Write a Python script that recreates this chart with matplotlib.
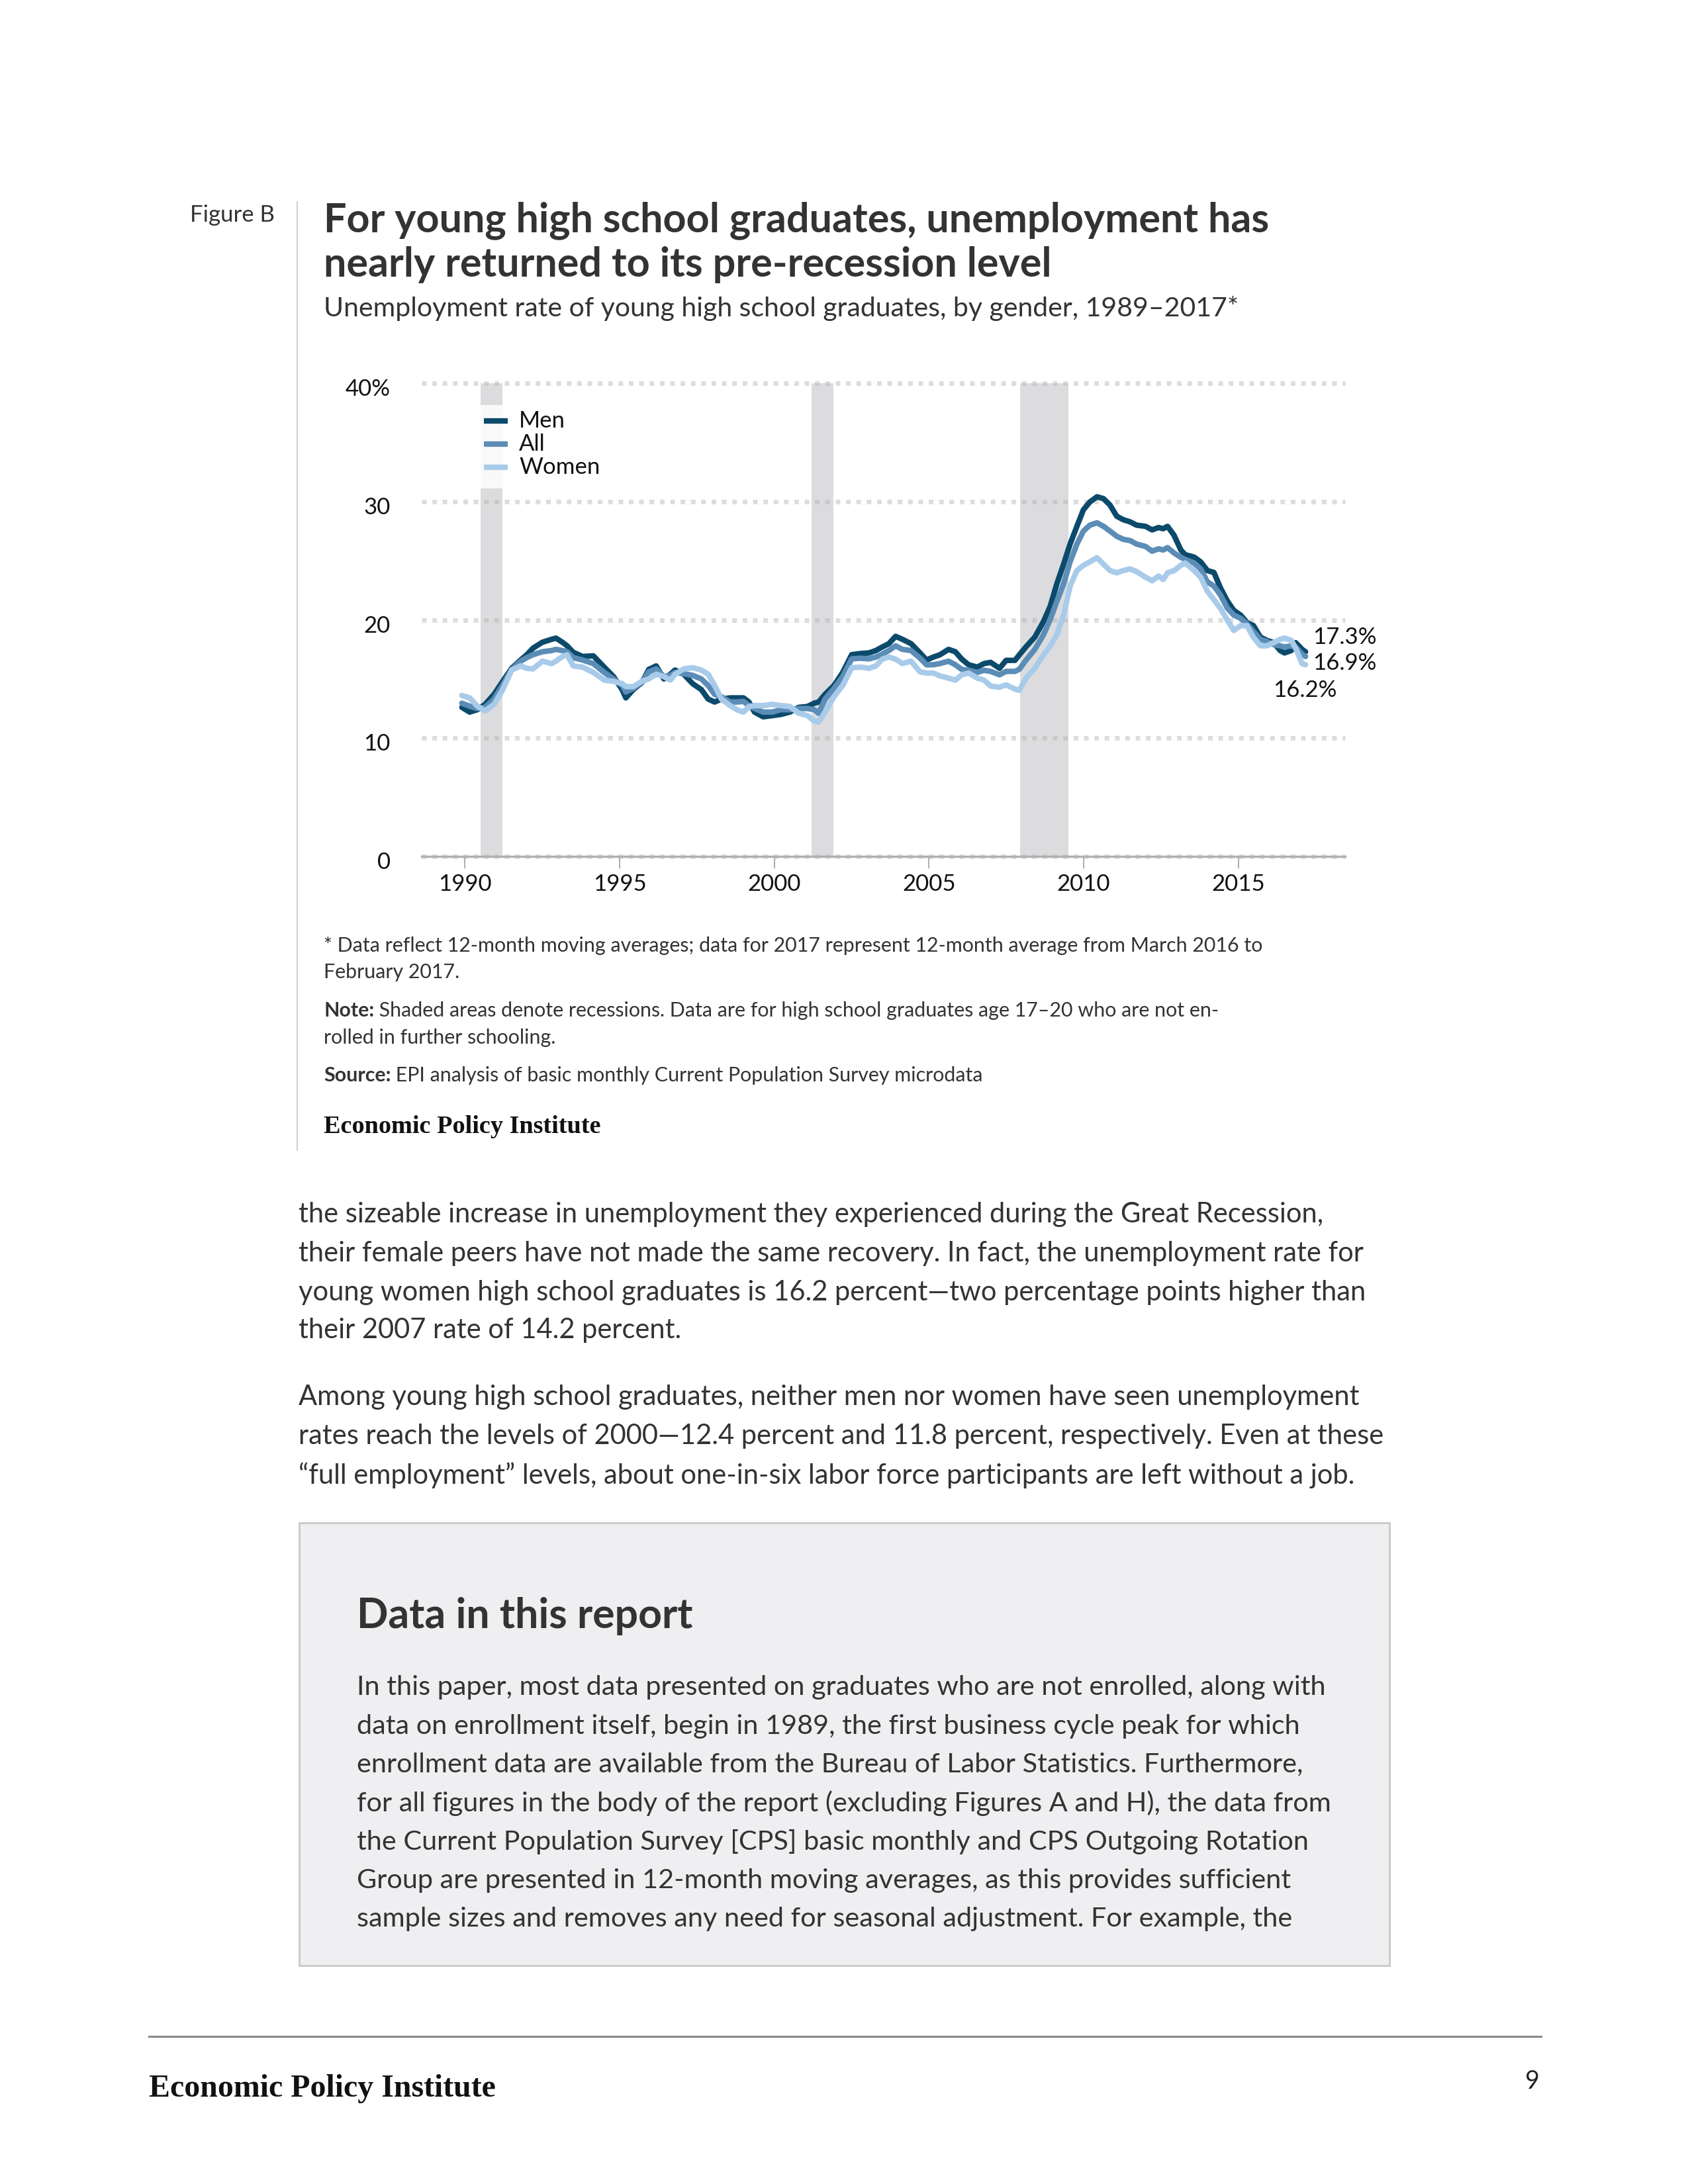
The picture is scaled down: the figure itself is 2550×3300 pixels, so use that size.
import matplotlib
matplotlib.use("Agg")
import matplotlib.pyplot as plt
import matplotlib.transforms as mtransforms
from matplotlib.lines import Line2D
from matplotlib.patches import Rectangle

plt.rcParams["font.family"] = ["Lato", "DejaVu Sans"]

# ---- data (12-month moving averages) ----
years = [1989.90, 1990.15, 1990.40, 1990.65, 1990.94, 1991.22, 1991.51, 1991.80, 1992.00, 1992.20,
         1992.50, 1992.80, 1992.94, 1993.15, 1993.30, 1993.50, 1993.80, 1994.15, 1994.50, 1994.80,
         1995.08, 1995.20, 1995.44, 1995.72, 1995.94, 1996.18, 1996.43, 1996.64, 1996.79, 1997.07,
         1997.36, 1997.64, 1997.86, 1998.07, 1998.29, 1998.57, 1998.79, 1999.00, 1999.18, 1999.36,
         1999.64, 1999.93, 2000.21, 2000.50, 2000.79, 2001.07, 2001.29, 2001.43, 2001.64, 2001.93,
         2002.21, 2002.50, 2002.79, 2003.06, 2003.28, 2003.49, 2003.70, 2003.92, 2004.14, 2004.42,
         2004.71, 2004.92, 2005.14, 2005.35, 2005.63, 2005.85, 2006.06, 2006.28, 2006.56, 2006.78,
         2006.99, 2007.28, 2007.49, 2007.78, 2007.92, 2008.13, 2008.42, 2008.70, 2008.92, 2009.13,
         2009.35, 2009.56, 2009.78, 2009.99, 2010.20, 2010.43, 2010.64, 2010.85, 2011.07, 2011.28,
         2011.50, 2011.71, 2012.00, 2012.21, 2012.42, 2012.57, 2012.71, 2012.92, 2013.14, 2013.28,
         2013.57, 2013.78, 2014.00, 2014.21, 2014.42, 2014.64, 2014.85, 2015.07, 2015.28, 2015.49,
         2015.71, 2015.92, 2016.14, 2016.35, 2016.49, 2016.71, 2016.85, 2017.06, 2017.17]

men = [12.6, 12.2, 12.4, 12.85, 13.7, 14.8, 15.9, 16.6, 17.05, 17.6,
       18.1, 18.35, 18.45, 18.1, 17.8, 17.25, 16.9, 16.95, 16.0, 15.2,
       14.1, 13.4, 14.1, 14.7, 15.8, 16.1, 15.0, 15.4, 15.75, 15.4,
       14.6, 14.1, 13.3, 13.05, 13.3, 13.4, 13.4, 13.4, 13.05, 12.2,
       11.8, 11.9, 12.0, 12.2, 12.6, 12.67, 12.95, 13.05, 13.7, 14.45,
       15.55, 17.05, 17.15, 17.2, 17.4, 17.7, 17.98, 18.6, 18.35, 17.98,
       17.2, 16.6, 16.85, 17.04, 17.5, 17.3, 16.67, 16.2, 16.0, 16.3,
       16.4, 15.9, 16.57, 16.57, 17.04, 17.7, 18.54, 19.85, 21.16, 23.03,
       24.7, 26.4, 27.9, 29.3, 29.96, 30.4, 30.24, 29.7, 28.75, 28.46,
       28.28, 28.0, 27.9, 27.6, 27.8, 27.7, 27.9, 27.15, 25.9, 25.5,
       25.3, 24.9, 24.16, 24.0, 22.7, 21.6, 20.8, 20.4, 19.76, 19.5,
       18.54, 18.26, 18.07, 17.4, 17.2, 17.4, 18.07, 17.5, 17.3]

all_grads = [12.95, 12.7, 12.5, 12.6, 13.3, 14.5, 15.8, 16.5, 16.8, 17.05,
             17.3, 17.4, 17.5, 17.4, 17.3, 16.8, 16.6, 16.3, 15.55, 15.0,
             14.45, 13.9, 14.2, 14.75, 15.6, 15.85, 15.2, 15.3, 15.55, 15.45,
             15.3, 15.0, 14.45, 13.7, 13.5, 13.05, 13.05, 13.1, 12.75, 12.5,
             12.2, 12.2, 12.4, 12.4, 12.5, 12.5, 12.4, 12.1, 13.3, 14.2,
             15.2, 16.7, 16.75, 16.7, 16.85, 17.1, 17.4, 17.8, 17.5, 17.4,
             16.76, 16.2, 16.2, 16.3, 16.5, 16.2, 15.8, 15.73, 15.55, 15.73,
             15.64, 15.35, 15.64, 15.64, 15.82, 16.57, 17.5, 18.73, 20.04, 21.54,
             23.03, 24.9, 26.4, 27.5, 28.0, 28.2, 27.9, 27.5, 27.06, 26.8,
             26.7, 26.4, 26.2, 25.8, 26.0, 25.9, 26.1, 25.65, 25.28, 25.1,
             24.8, 24.3, 23.2, 22.85, 22.1, 21.0, 20.4, 20.13, 19.66, 19.0,
             18.35, 18.17, 17.9, 17.8, 17.7, 17.8, 17.7, 17.1, 16.9]

women = [13.6, 13.4, 12.7, 12.3, 12.85, 14.1, 15.75, 16.1, 15.9, 15.85,
         16.5, 16.3, 16.5, 16.9, 17.05, 16.1, 16.0, 15.55, 14.9, 14.8,
         14.6, 14.35, 14.35, 14.8, 15.0, 15.4, 15.2, 14.9, 15.4, 15.85,
         15.95, 15.75, 15.4, 14.45, 13.3, 12.75, 12.4, 12.2, 12.67, 12.75,
         12.75, 12.85, 12.75, 12.67, 12.1, 11.9, 11.45, 11.35, 12.2, 13.5,
         14.45, 15.95, 16.0, 15.9, 16.1, 16.67, 16.85, 16.67, 16.3, 16.5,
         15.6, 15.5, 15.5, 15.26, 15.07, 14.9, 15.35, 15.5, 15.07, 14.9,
         14.4, 14.3, 14.5, 14.14, 14.04, 15.07, 15.9, 17.04, 17.79, 18.73,
         20.4, 22.85, 24.16, 24.6, 24.9, 25.25, 24.7, 24.16, 23.97, 24.16,
         24.3, 24.07, 23.6, 23.3, 23.7, 23.4, 23.97, 24.16, 24.6, 24.8,
         24.16, 23.6, 22.4, 21.7, 20.97, 20.0, 19.1, 19.5, 19.5, 18.5,
         17.8, 17.8, 18.07, 18.35, 18.45, 18.26, 17.6, 16.3, 16.2]

series_names = ["Men", "All", "Women"]
series_colors = ["#0b4a6b", "#5b8db7", "#a9cbea"]
end_labels = ["17.3%", "16.9%", "16.2%"]

recessions = [(1990.5, 1991.22), (2001.2, 2001.9), (2007.95, 2009.5)]
x_ticks = [1990, 1995, 2000, 2005, 2010, 2015]
y_ticks = [0, 10, 20, 30, 40]
y_tick_labels = ["0", "10", "20", "30", "40%"]

W, H = 2550, 3300
PT = 100 / 72.0


def fx(x):
    return x / W


def fy(y):
    return 1 - y / H


fig = plt.figure(figsize=(25.5, 33), dpi=100)
fig.patch.set_facecolor("white")

# ---- chart ----
ax = fig.add_axes([fx(637), fy(1294), fx(2032) - fx(637), fy(579) - fy(1294)])
ax.set_xlim(1988.6, 2018.45)
ax.set_ylim(0, 40)
for s in ax.spines.values():
    s.set_visible(False)

for start, end in recessions:
    ax.axvspan(start, end, color="#dcdcde", zorder=0, lw=0)

for v in y_ticks:
    ax.axhline(v, color="#b4b4b4", alpha=0.45, lw=5, dashes=(1.0, 1.25),
               dash_capstyle="butt", clip_on=False, zorder=1)
ax.axhline(0, color="#b0b0b0", lw=2.5, clip_on=False, zorder=1.5)

for vals, name, col in zip([men, all_grads, women], series_names, series_colors):
    ax.plot(years, vals, color=col, lw=6, solid_capstyle="round",
            solid_joinstyle="round", zorder=3, clip_on=False)

ax.set_xticks(x_ticks)
ax.set_xticklabels([str(t) for t in x_ticks])
ax.tick_params(axis="x", length=13, width=1.5, color="#b0b0b0", pad=6,
               labelsize=25, labelcolor="#111111")
ax.set_yticks(y_ticks)
ax.set_yticklabels(y_tick_labels)
ax.tick_params(axis="y", length=0, pad=34, labelsize=25, labelcolor="#111111")
shift = mtransforms.ScaledTranslation(0, -6 / 100.0, fig.dpi_scale_trans)
for lab in ax.get_yticklabels():
    lab.set_transform(lab.get_transform() + shift)

# end-of-line value labels
offsets = [(11, 22, "left"), (11, -10, "left"), (47, -39, "right")]
for vals, lab, (dx, dy, ha) in zip([men, all_grads, women], end_labels, offsets):
    ax.annotate(lab, xy=(years[-1], vals[-1]), xytext=(dx / PT, dy / PT),
                textcoords="offset points", ha=ha, va="center", fontsize=25,
                color="#111111", annotation_clip=False)

# legend (drawn by hand to match the compact layout)
fig.add_artist(Rectangle((fx(712), fy(738)), fx(940) - fx(712), fy(612) - fy(738),
                         transform=fig.transFigure, facecolor="white", alpha=0.85,
                         edgecolor="none", zorder=2))
for i, (name, col) in enumerate(zip(series_names, series_colors)):
    yy = 636 + i * 35
    fig.add_artist(Line2D([fx(731), fx(767)], [fy(yy), fy(yy)], color=col, lw=6,
                          solid_capstyle="butt", zorder=3))
    fig.text(fx(784), fy(yy), name, fontsize=25, va="center", ha="left",
             color="#111111", zorder=3)

# ---- figure header ----
dark = "#333333"
fig.add_artist(Line2D([fx(449), fx(449)], [fy(305), fy(1738)], color="#d0d0d0", lw=1.5))
fig.text(fx(287), fy(325), "Figure B", fontsize=25, color=dark, va="center")
fig.text(fx(489), fy(333), "For young high school graduates, unemployment has",
         fontsize=44, fontweight="bold", color=dark, va="center")
fig.text(fx(489), fy(400), "nearly returned to its pre-recession level",
         fontsize=44, fontweight="bold", color=dark, va="center")
fig.text(fx(489), fy(466), "Unemployment rate of young high school graduates, by gender, 1989\u20132017*",
         fontsize=29.5, color=dark, va="center")

# ---- notes ----
note_size = 21.9
fig.text(fx(489), fy(1429), "* Data reflect 12-month moving averages; data for 2017 represent "
         "12-month average from March 2016 to", fontsize=note_size, color=dark, va="center")
fig.text(fx(489), fy(1469), "February 2017.", fontsize=note_size, color=dark, va="center")
t_note = fig.text(fx(489), fy(1527), "Note:", fontsize=note_size, fontweight="bold",
                  color=dark, va="center")
ax.annotate(" Shaded areas denote recessions. Data are for high school graduates age 17\u201320 "
            "who are not en-", xy=(1, 0), xycoords=t_note, va="bottom", ha="left",
            fontsize=note_size, color=dark, annotation_clip=False)
fig.text(fx(489), fy(1568), "rolled in further schooling.", fontsize=note_size, color=dark,
         va="center")
t_src = fig.text(fx(489), fy(1625), "Source:", fontsize=note_size, fontweight="bold",
                 color=dark, va="center")
ax.annotate(" EPI analysis of basic monthly Current Population Survey microdata", xy=(1, 0),
            xycoords=t_src, va="bottom", ha="left", fontsize=note_size, color=dark,
            annotation_clip=False)
fig.text(fx(489), fy(1702), "Economic Policy Institute", fontsize=27.5, fontweight="bold",
         family="Liberation Serif", color="#111111", va="center")

# ---- body text ----
body = "#333333"
body_size = 30
body_lines = [
    (1835, "the sizeable increase in unemployment they experienced during the Great Recession,"),
    (1894, "their female peers have not made the same recovery. In fact, the unemployment rate for"),
    (1953, "young women high school graduates is 16.2 percent\u2014two percentage points higher than"),
    (2010, "their 2007 rate of 14.2 percent."),
    (2111, "Among young high school graduates, neither men nor women have seen unemployment"),
    (2170, "rates reach the levels of 2000\u201412.4 percent and 11.8 percent, respectively. Even at these"),
    (2229, "\u201cfull employment\u201d levels, about one-in-six labor force participants are left without a job."),
]
for yy, line in body_lines:
    fig.text(fx(451), fy(yy), line, fontsize=body_size, color=body, va="center")

# ---- sidebar box ----
fig.add_artist(Rectangle((fx(452), fy(2970)), fx(2099) - fx(452), fy(2301) - fy(2970),
                         transform=fig.transFigure, facecolor="#efeef0",
                         edgecolor="#c8c8c8", lw=2))
fig.text(fx(539), fy(2442), "Data in this report", fontsize=45, fontweight="bold",
         color=dark, va="center")
box_lines = [
    "In this paper, most data presented on graduates who are not enrolled, along with",
    "data on enrollment itself, begin in 1989, the first business cycle peak for which",
    "enrollment data are available from the Bureau of Labor Statistics. Furthermore,",
    "for all figures in the body of the report (excluding Figures A and H), the data from",
    "the Current Population Survey [CPS] basic monthly and CPS Outgoing Rotation",
    "Group are presented in 12-month moving averages, as this provides sufficient",
    "sample sizes and removes any need for seasonal adjustment. For example, the",
]
for i, line in enumerate(box_lines):
    fig.text(fx(539), fy(2550 + i * 58.2), line, fontsize=29.8, color=body, va="center")

# ---- footer ----
fig.add_artist(Line2D([fx(225), fx(2328)], [fy(3077), fy(3077)], color="#888888", lw=2.2))
fig.text(fx(225), fy(3156), "Economic Policy Institute", fontsize=34.5, fontweight="bold",
         family="Liberation Serif", color="#111111", va="center")
fig.text(fx(2326), fy(3145), "9", fontsize=27, color="#222222", va="center", ha="right")

fig.savefig("out.png", dpi=100, facecolor="white")
